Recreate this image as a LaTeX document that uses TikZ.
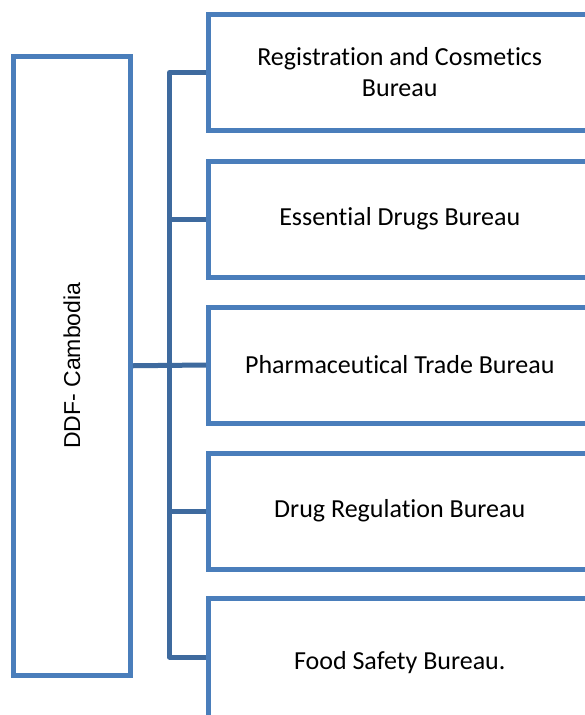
\documentclass[tikz,border=0pt]{standalone}
\usepackage{fontspec}
\setmainfont{Carlito}[Ligatures={TeX,NoCommon}]
\newfontfamily\arialfont{Liberation Sans}
\usepackage{tikz}
\usetikzlibrary{positioning, calc}

\definecolor{boxblue}{HTML}{4A7EBB}
\definecolor{linkblue}{HTML}{3E6A9E}

\begin{document}
\begin{tikzpicture}[
    x=1pt, y=-1pt,
    unit/.style={rectangle, draw=boxblue, line width=5pt, fill=white, minimum width=382.5pt, minimum height=116pt, inner sep=0pt, align=center, font=\fontsize{26}{31}\selectfont},
    head/.style={rectangle, draw=boxblue, line width=5pt, fill=white, minimum width=117pt, minimum height=619.5pt, inner sep=0pt, font=\arialfont\fontsize{23}{27}\selectfont},
    link/.style={draw=linkblue, line width=5pt}
]

% Frame
\clip (0, 0) rectangle (585, 715);
\fill[white] (0, 0) rectangle (585, 715);

% Connectors
\coordinate (trunk) at (169.5, 365);

% Head
\node[head] (ddf) at (72, 365.75) {\rotatebox{90}{DDF- Cambodia}};

% Bureaus
\node[unit] (reg) at (399.75, 72.5) {Registration and Cosmetics\\Bureau};
\node[unit] (ess) at (399.75, 219) {Essential Drugs Bureau};
\node[unit] (pha) at (399.75, 365) {Pharmaceutical Trade Bureau};
\node[unit] (drr) at (399.75, 511) {Drug Regulation Bureau};
\node[unit, minimum height=132pt] (food) at (399.75, 664) {\raisebox{7pt}{Food Safety Bureau.}};
\coordinate (foodin) at ($(food.west)+(0,-7)$);

% Tree
\draw[link, line join=round] (reg.west) -- (reg.west -| trunk) -- (foodin -| trunk) -- (foodin);
\draw[link] (ddf.east) -- (pha.west);
\draw[link] (ess.west) -- (ess.west -| trunk);
\draw[link] (drr.west) -- (drr.west -| trunk);

\end{tikzpicture}
\end{document}
